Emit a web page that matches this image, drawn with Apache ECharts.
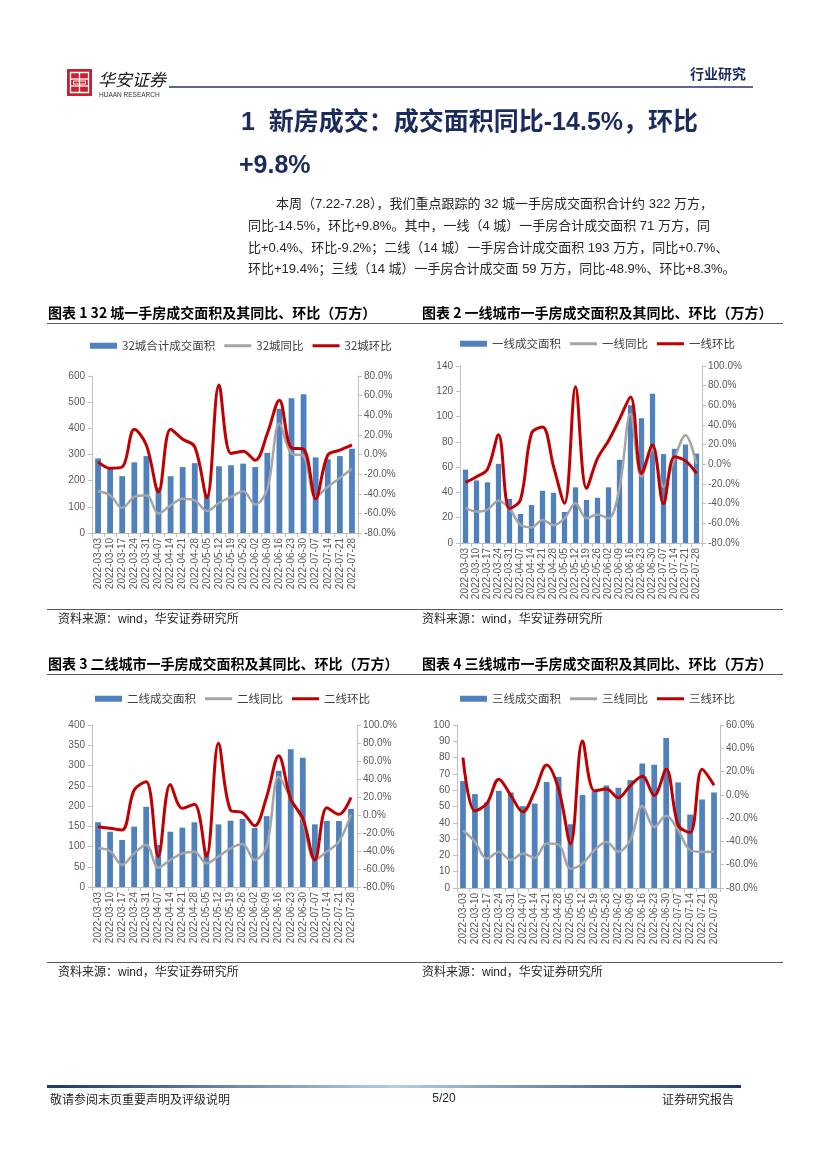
<!DOCTYPE html>
<html><head><meta charset="utf-8">
<script src="https://cdn.jsdelivr.net/npm/echarts@6/dist/echarts.min.js"></script>
<style>html,body{margin:0;padding:0;background:#fff}#c{width:827px;height:1169px}</style>
</head><body><div id="c"></div>
<script>
const categories = ['2022-03-03','2022-03-10','2022-03-17','2022-03-24','2022-03-31','2022-04-07','2022-04-14','2022-04-21','2022-04-28','2022-05-05','2022-05-12','2022-05-19','2022-05-26','2022-06-02','2022-06-09','2022-06-16','2022-06-23','2022-06-30','2022-07-07','2022-07-14','2022-07-21','2022-07-28'];

// 图表1 32城
const c32Area = [285, 245, 217, 270, 294, 174, 217, 252, 267, 150, 255, 259, 265, 252, 306, 475, 515, 530, 289, 282, 294, 322];
const c32Yoy  = [-37.5, -41.5, -54.5, -43.3, -41.5, -60.2, -51.8, -45, -46.7, -57.6, -49.4, -43.3, -37.5, -51, -35.4, 31.6, 1, -1.4, -43.3, -33, -23.9, -14.5];
const c32Mom  = [-7.5, -14, -12.6, 25.8, 9.5, -38, 25.8, 15.6, 7.8, -44, 70.8, 1, 3.4, -5.8, 21.4, 55.4, 6.7, 5.4, -45, -0.5, 4.4, 9.8];

// 图表2 一线
const t1Area = [58, 49.5, 48, 62.6, 35, 23, 30, 41.3, 39.7, 24.5, 44, 34, 35.8, 44, 65.8, 109, 98.7, 118, 70.3, 74.5, 77.9, 70.7];
const t1Yoy  = [-44.4, -48, -46, -37, -45, -61.6, -64, -56.5, -62, -55, -39.6, -55, -51, -55, -24, 51.8, -12.6, 15, -22.7, 6, 29.7, 0.4];
const t1Mom  = [-18.3, -12.6, -5, 30, -45, -36, 31.5, 38, -2, -39.6, 79, -24.4, 6, 24, 46, 68.6, -9.5, 19.6, -40, 7.7, 3.5, -9.2];

// 图表3 二线
const t2Area = [160, 136.5, 116, 149, 198, 103.7, 136.5, 146.5, 159.7, 87, 154.7, 163.7, 168, 145.7, 175, 287, 340, 319, 154.7, 163, 163, 193];
const t2Yoy  = [-37, -40, -55.5, -42.6, -33, -58.5, -50, -42.6, -40.7, -53.7, -46, -37, -32.2, -50, -35, 42.6, 18.5, -7.4, -50, -40.7, -29.6, 0.7];
const t2Mom  = [-13, -14.8, -16.7, 27.8, 37, -46, 34, 7.4, 11.9, -46, 79.6, 5.5, 2.6, -12, 20.4, 65.9, 17.8, -3.7, -50, 8.1, 0.7, 19.4];

// 图表4 三线
const t3Area = [65.6, 57.6, 52.5, 59.6, 58.6, 50.2, 51.8, 65, 68.2, 39.1, 57, 59.4, 62.9, 61.5, 66.2, 76.4, 75.6, 92, 64.8, 45, 54.3, 58.6];
const t3Yoy  = [-30.4, -40.4, -54.7, -49, -56, -50.4, -54, -41.8, -42.7, -63.4, -59, -47.6, -40.4, -48.8, -39, -9.5, -27.5, -18, -30.4, -47.6, -49, -48.9];
const t3Mom  = [32, -13.8, -7.4, 13.5, -0.5, -14.6, 3, 25.6, 5, -42, 46.2, 3.5, 5, -2.5, 8, 16, -0.5, 22, -26, -32.4, 22, 8.3];

const chartTitles = ['图表 1 32 城一手房成交面积及其同比、环比（万方）','图表 2 一线城市一手房成交面积及其同比、环比（万方）','图表 3 二线城市一手房成交面积及其同比、环比（万方）','图表 4 三线城市一手房成交面积及其同比、环比（万方）'];
const legendNames = [['32城合计成交面积','32城同比','32城环比'],['一线成交面积','一线同比','一线环比'],['二线成交面积','二线同比','二线环比'],['三线成交面积','三线同比','三线环比']];
const leftAxes = [[0,600,100],[0,140,20],[0,400,50],[0,100,10]];
const rightAxes = [[-80,80,20],[-80,100,20],[-80,100,20],[-80,60,20]];
const paragraph = [
  '本周（7.22-7.28），我们重点跟踪的 32 城一手房成交面积合计约 322 万方，',
  '同比-14.5%，环比+9.8%。其中，一线（4 城）一手房合计成交面积 71 万方，同',
  '比+0.4%、环比-9.2%；二线（14 城）一手房合计成交面积 193 万方，同比+0.7%、',
  '环比+19.4%；三线（14 城）一手房合计成交面 59 万方，同比-48.9%、环比+8.3%。'
];
const sourceText = '资料来源：wind，华安证券研究所';

const areaData = [c32Area, t1Area, t2Area, t3Area];
const yoyData = [c32Yoy, t1Yoy, t2Yoy, t3Yoy];
const momData = [c32Mom, t1Mom, t2Mom, t3Mom];

const SANS = "'Liberation Sans', Arial, 'Noto Sans CJK SC'";
const CJK = "'Noto Sans CJK SC'";
const NAVY = '#1c2b5e';
const BLUE = '#4F81BD', GRAY = '#A5A5A5', RED = '#C00000';

const grids = [
  {left:92, top:376, width:266, height:157},
  {left:460, top:366, width:242, height:177},
  {left:92, top:725, width:265, height:162},
  {left:457, top:725, width:263, height:163}
];
const legendPos = [{left:90, top:340},{left:460, top:338},{left:95, top:693},{left:460, top:693}];
const LINE_ICON = 'path://M0,0H90V10H0Z';

const axisLineStyle = {lineStyle:{color:'#BFBFBF', width:1}};
const labelStyle = {fontSize:10, color:'#595959', fontFamily:SANS};

const xAxis = [], yAxis = [], series = [], legend = [];
for (let i = 0; i < 4; i++) {
  xAxis.push({type:'category', gridIndex:i, data:categories, boundaryGap:true,
    axisLine:axisLineStyle, axisTick:{show:true, length:4, interval:0, lineStyle:{color:'#BFBFBF'}},
    axisLabel:Object.assign({rotate:90, interval:0, margin:5}, labelStyle), splitLine:{show:false}});
  yAxis.push({type:'value', gridIndex:i, position:'left', min:leftAxes[i][0], max:leftAxes[i][1], interval:leftAxes[i][2],
    axisLine:Object.assign({show:true}, axisLineStyle), axisTick:{show:true, length:4, lineStyle:{color:'#BFBFBF'}},
    axisLabel:Object.assign({margin:7}, labelStyle), splitLine:{show:false}});
  yAxis.push({type:'value', gridIndex:i, position:'right', min:rightAxes[i][0], max:rightAxes[i][1], interval:rightAxes[i][2],
    axisLine:Object.assign({show:true}, axisLineStyle), axisTick:{show:true, length:4, lineStyle:{color:'#BFBFBF'}},
    axisLabel:Object.assign({margin:6, formatter:v => v.toFixed(1) + '%'}, labelStyle), splitLine:{show:false}});
  series.push({name:legendNames[i][0], type:'bar', xAxisIndex:i, yAxisIndex:2*i, data:areaData[i], barWidth:'48%',
    itemStyle:{color:BLUE}, animation:false});
  series.push({name:legendNames[i][1], type:'line', xAxisIndex:i, yAxisIndex:2*i+1, data:yoyData[i], smooth:0.35,
    symbol:'none', lineStyle:{color:GRAY, width:2.5}, itemStyle:{color:GRAY}, animation:false});
  series.push({name:legendNames[i][2], type:'line', xAxisIndex:i, yAxisIndex:2*i+1, data:momData[i], smooth:0.35,
    symbol:'none', lineStyle:{color:RED, width:3}, itemStyle:{color:RED}, animation:false, z:3});
  legend.push(Object.assign({
    data:[{name:legendNames[i][0], icon:'rect'}, {name:legendNames[i][1], icon:LINE_ICON}, {name:legendNames[i][2], icon:LINE_ICON}],
    itemWidth:27, itemHeight:6, itemGap:9, padding:0, selectedMode:false, symbolKeepAspect:true,
    textStyle:{fontSize:11.5, color:'#404040', fontFamily:CJK}
  }, legendPos[i]));
}

const g = [];
function txt(x, y, text, font, fill, align) {
  g.push({type:'text', silent:true, style:{x:x, y:y, text:text, font:font, fill:fill||'#000', textAlign:align||'left', textVerticalAlign:'middle'}});
}
function line(x1, y1, x2, y2, color, w) {
  g.push({type:'line', silent:true, shape:{x1:x1, y1:y1, x2:x2, y2:y2}, style:{stroke:color, lineWidth:w}});
}
// logo
g.push({type:'rect', silent:true, shape:{x:67, y:69, width:25, height:27}, style:{fill:'#C8202E'}});
g.push({type:'rect', silent:true, shape:{x:70.5, y:72.5, width:18, height:20}, style:{fill:'none', stroke:'#fff', lineWidth:1.3}});
line(79.5, 72.5, 79.5, 92.5, '#fff', 1.3);
line(70.5, 79, 88.5, 79, '#fff', 1.3);
line(70.5, 86, 88.5, 86, '#fff', 1.3);
g.push({type:'rect', silent:true, shape:{x:73.5, y:81, width:12, height:3}, style:{fill:'none', stroke:'#fff', lineWidth:1}});
txt(98, 80, '华安证券', 'italic 17px ' + CJK, '#1a1a1a');
txt(99, 95, 'HUAAN RESEARCH', '6.5px ' + SANS, '#333');
// header
txt(746, 74, '行业研究', 'bold 14px ' + CJK, NAVY, 'right');
line(169, 87, 753, 87, '#1F3864', 1.5);
// section title
txt(241, 123, '1  新房成交：成交面积同比-14.5%，环比', 'bold 25px ' + SANS, NAVY);
txt(239, 166, '+9.8%', 'bold 25px ' + SANS, NAVY);
// paragraph
const paraY = [204, 226, 248, 269];
paragraph.forEach((t, k) => txt(k === 0 ? 276 : 248, paraY[k], t, '13px ' + SANS, '#262626'));
// chart titles & rules
txt(48, 313, chartTitles[0], 'bold 14px ' + CJK, '#000');
txt(422, 313, chartTitles[1], 'bold 14px ' + CJK, '#000');
txt(48, 664, chartTitles[2], 'bold 14px ' + CJK, '#000');
txt(422, 664, chartTitles[3], 'bold 14px ' + CJK, '#000');
line(47, 323.5, 783, 323.5, '#595959', 1);
line(47, 674.5, 783, 674.5, '#595959', 1);
line(47, 609.5, 783, 609.5, '#595959', 1);
line(47, 962.5, 783, 962.5, '#595959', 1);
txt(58, 620, sourceText, '12px ' + SANS, '#262626');
txt(422, 620, sourceText, '12px ' + SANS, '#262626');
txt(58, 973, sourceText, '12px ' + SANS, '#262626');
txt(422, 973, sourceText, '12px ' + SANS, '#262626');
// footer
g.push({type:'rect', silent:true, shape:{x:47, y:1085, width:694, height:3},
  style:{fill:new echarts.graphic.LinearGradient(0,0,1,0,[{offset:0,color:'#1F3864'},{offset:0.5,color:'#B8CCE4'},{offset:1,color:'#1F3864'}])}});
txt(50, 1099, '敬请参阅末页重要声明及评级说明', '12px ' + CJK, '#262626');
txt(444, 1099, '5/20', '12px ' + SANS, '#262626', 'center');
txt(734, 1099, '证券研究报告', '12px ' + CJK, '#262626', 'right');

const chart = echarts.init(document.getElementById('c'), null, {renderer:'canvas'});
chart.setOption({
  backgroundColor:'#fff',
  animation:false,
  grid:grids,
  xAxis:xAxis,
  yAxis:yAxis,
  legend:legend,
  series:series,
  graphic:{elements:g}
});
</script>
</body></html>
